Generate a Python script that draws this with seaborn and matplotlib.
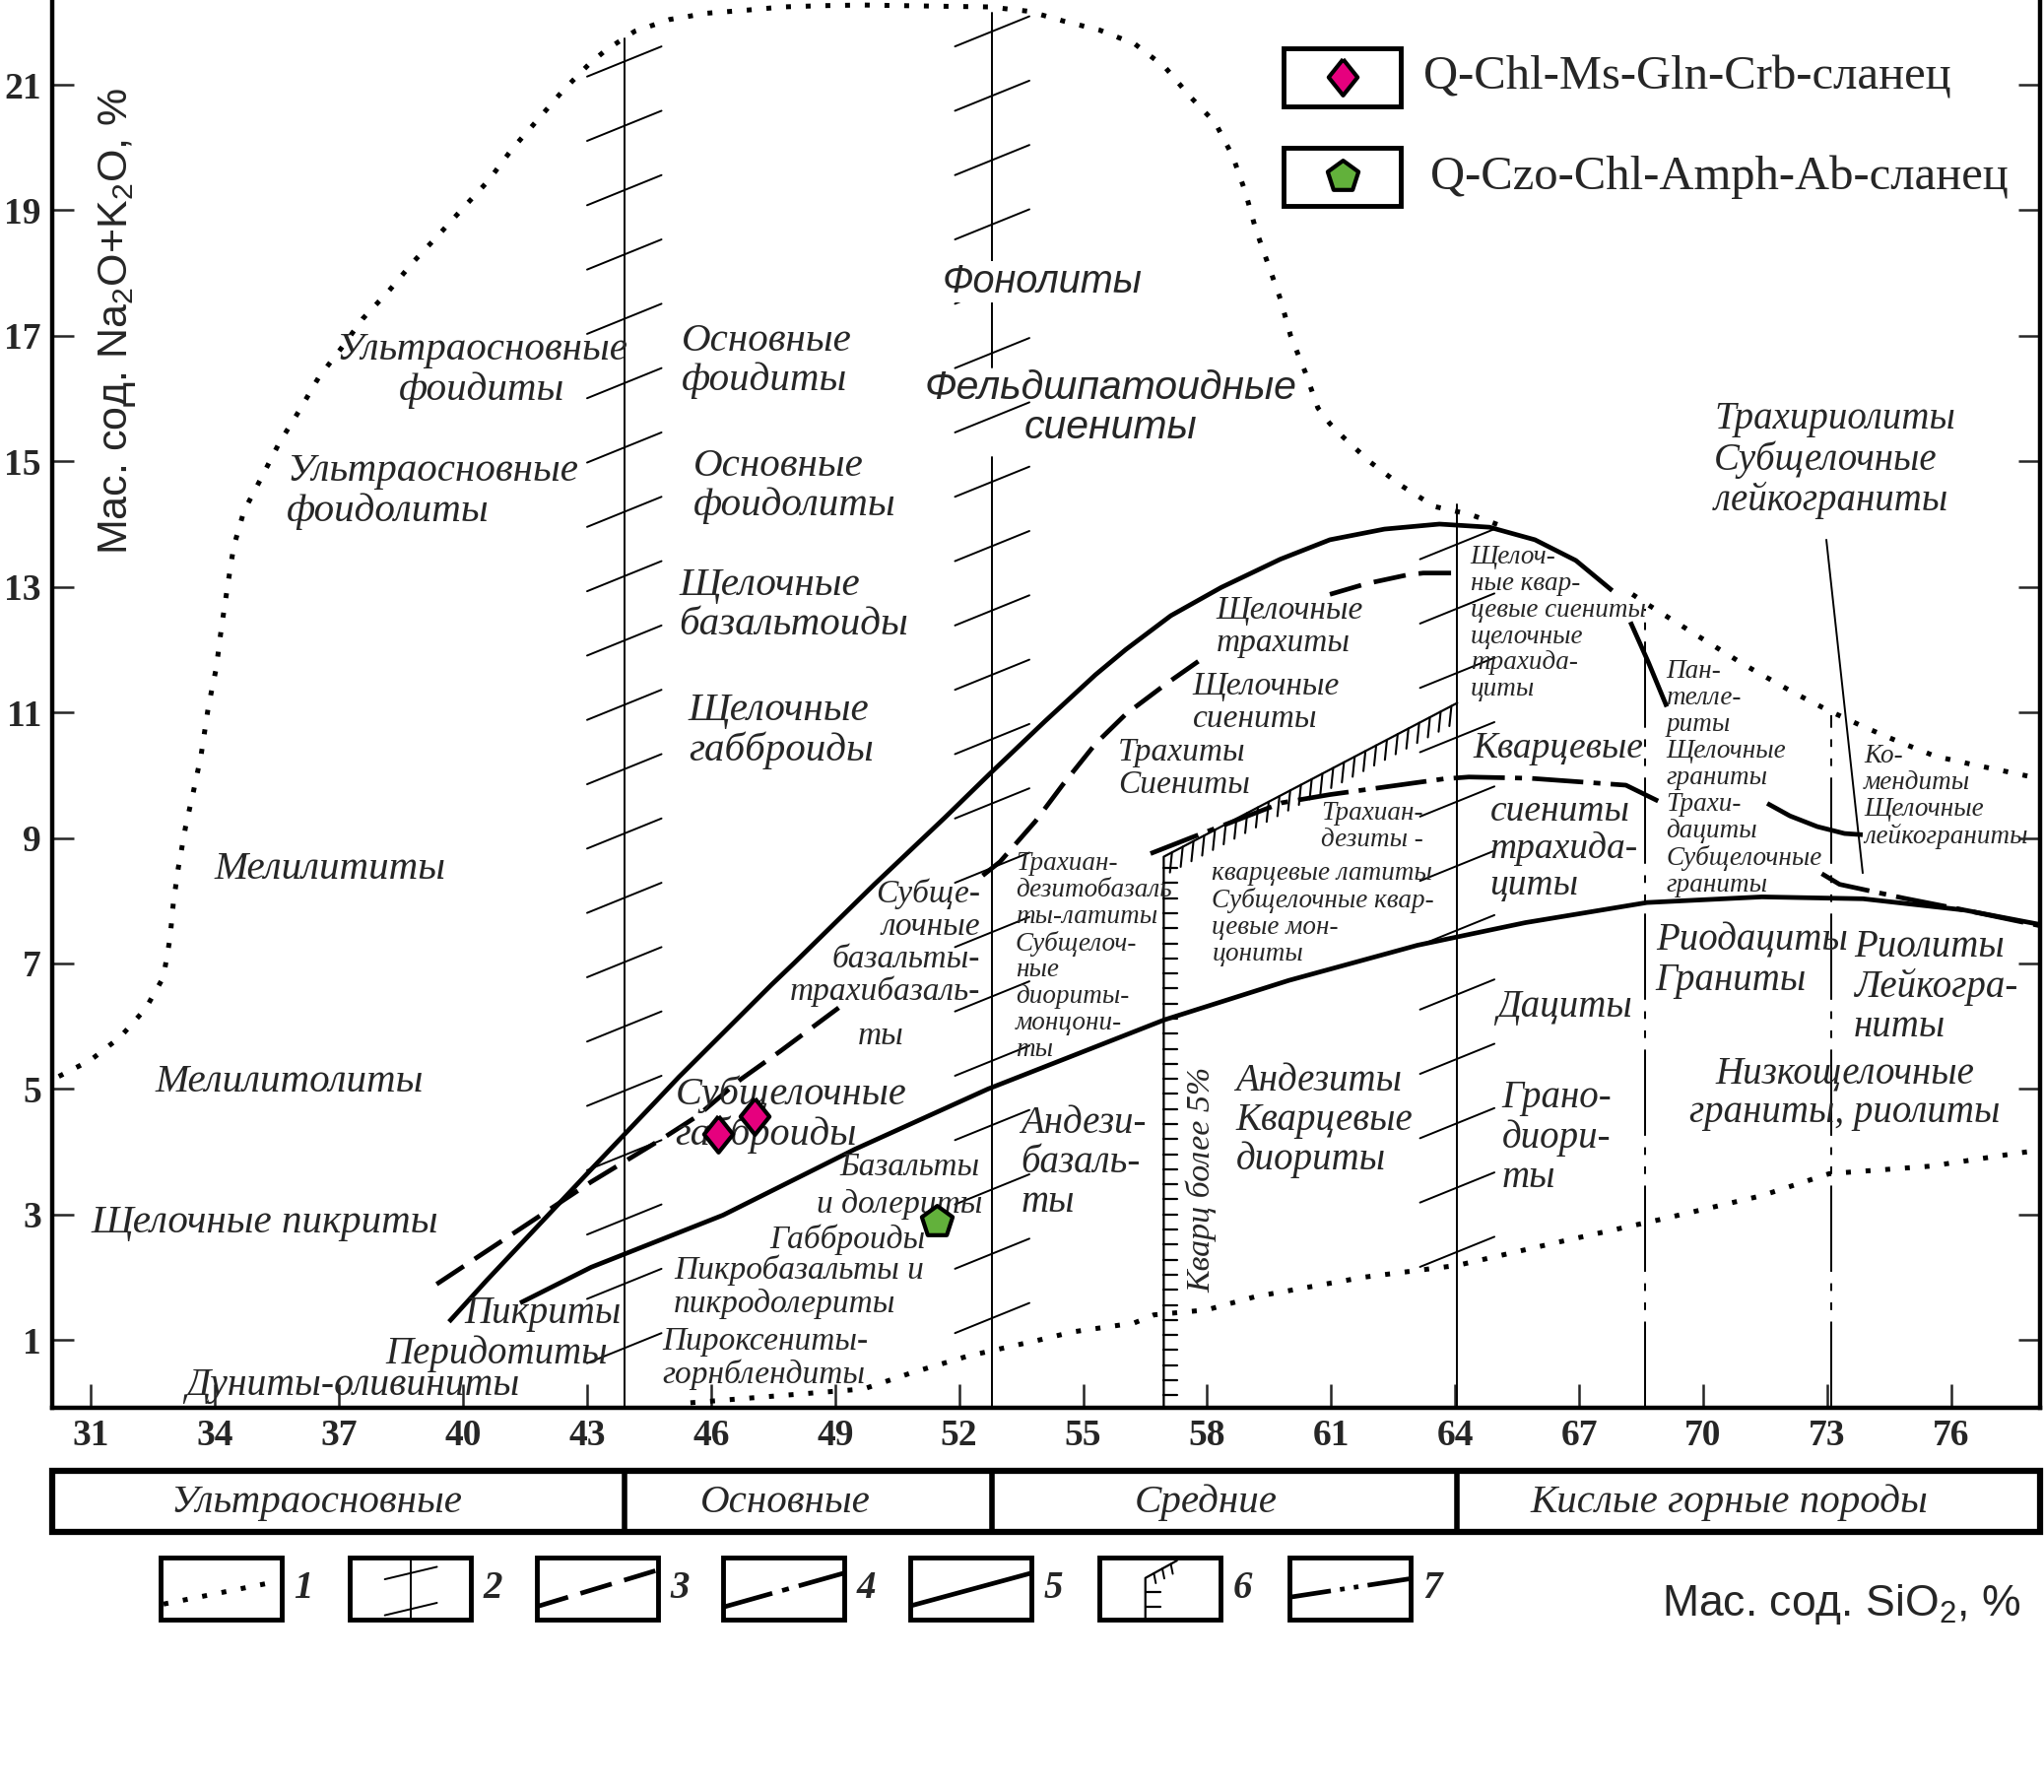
import numpy as np
import pandas as pd
import matplotlib.pyplot as plt
from matplotlib.patches import Rectangle
import seaborn as sns

sns.set_style('white')
plt.rcParams['font.family'] = ['Liberation Serif', 'DejaVu Sans']
plt.rcParams['mathtext.fontset'] = 'custom'
plt.rcParams['mathtext.rm'] = 'Liberation Sans'
plt.rcParams['mathtext.default'] = 'regular'

# ---------------- data (SiO2, Na2O+K2O) ----------------
# 1 - outer dotted envelope
env_top_x = [30.22, 30.99, 31.71, 32.32, 32.75, 32.91, 32.99, 33.11, 33.29, 33.48, 33.66, 33.84,
             34.03, 34.15, 34.3, 34.45, 34.7, 35.13, 35.55, 36.03, 36.51, 37.04, 37.57, 38.21,
             38.8, 39.44, 40.02, 40.61, 41.19, 41.83, 42.42, 43.05, 43.45, 44.15, 45.0, 45.91,
             46.89, 47.74, 48.71, 49.68, 50.65, 51.63, 52.72, 53.69, 54.55, 55.4, 56.25, 56.98,
             57.59, 58.2, 58.62, 58.92, 59.17, 59.47, 59.77, 60.02, 60.38, 60.68, 60.97, 61.3,
             61.96, 62.68, 63.5, 64.38, 65.2]
env_top_y = [5.2, 5.46, 5.83, 6.28, 6.78, 7.4, 7.96, 8.52, 9.19, 9.75, 10.31, 11.1,
             11.71, 12.33, 13.0, 13.64, 14.21, 14.75, 15.29, 15.8, 16.34, 16.79, 17.27, 17.72,
             18.18, 18.63, 19.05, 19.47, 19.98, 20.46, 20.91, 21.33, 21.55, 21.85, 22.04, 22.14,
             22.19, 22.24, 22.26, 22.27, 22.26, 22.25, 22.24, 22.17, 22.01, 21.87, 21.65, 21.28,
             20.81, 20.39, 19.86, 19.3, 18.71, 18.15, 17.59, 17.0, 16.41, 15.85, 15.6, 15.38,
             14.98, 14.62, 14.28, 14.15, 13.95]
env_right_x = [68.29, 68.68, 69.89, 70.99, 72.2, 73.03, 73.85, 74.74, 75.62, 76.51, 77.39, 78.1]
env_right_y = [12.88, 12.71, 12.21, 11.76, 11.31, 11.03, 10.78, 10.53, 10.3, 10.17, 10.05, 9.95]
env_low_x = [45.5, 49.69, 50.86, 52.19, 54.0, 54.75, 56.23, 56.71, 57.99, 59.16, 61.78, 64.06,
             66.5, 68.96, 71.42, 73.05, 75.5, 77.63, 78.1]
env_low_y = [0.0, 0.22, 0.48, 0.74, 1.01, 1.13, 1.27, 1.4, 1.48, 1.69, 2.0, 2.19,
             2.56, 2.92, 3.3, 3.65, 3.77, 3.98, 4.02]

# 5 - solid boundaries
alk_x = [39.66, 40.57, 43.1, 44.66, 45.22, 47.46, 48.0, 49.95, 51.65, 52.74, 54.08, 55.3,
         56.03, 57.12, 58.34, 59.77, 60.97, 62.29, 63.62, 64.83, 65.93, 66.92, 67.8]
alk_y = [1.29, 1.95, 3.72, 4.8, 5.19, 6.66, 7.0, 8.26, 9.32, 10.02, 10.86, 11.6,
         12.0, 12.54, 12.99, 13.44, 13.75, 13.92, 14.0, 13.95, 13.75, 13.42, 12.94]
alk2_x = [68.24, 68.68, 69.12]
alk2_y = [12.44, 11.79, 11.09]
alk3_x = [71.55, 72.1, 72.76, 73.42, 73.86]
alk3_y = [9.55, 9.35, 9.18, 9.07, 9.05]
sub_x = [41.38, 43.1, 46.29, 49.48, 52.7, 56.96, 59.98, 63.09, 65.7, 68.64, 71.42, 73.87, 76.32, 78.15]
sub_y = [1.59, 2.16, 2.99, 4.04, 5.0, 6.1, 6.73, 7.29, 7.65, 7.97, 8.06, 8.03, 7.85, 7.62]

# 3 - dashed boundary
dash1_x = [39.36, 43.1, 44.8, 45.65, 46.71, 47.67, 49.1]
dash1_y = [1.89, 3.52, 4.2, 4.56, 5.15, 5.6, 6.3]
dash2_x = [52.57, 52.99, 53.84, 54.51, 55.3, 56.03, 57.0, 57.91]
dash2_y = [8.4, 8.62, 9.26, 9.85, 10.5, 10.97, 11.45, 11.87]
dash3_x = [60.97, 61.85, 62.84, 63.23, 63.94]
dash3_y = [12.88, 13.05, 13.19, 13.22, 13.22]

# 4 - dash-dot boundary
dd1_x = [56.63, 57.6, 59.81, 60.97, 63.72, 64.33, 65.81, 68.13, 69.12]
dd1_y = [8.75, 9.0, 9.56, 9.69, 9.94, 9.97, 9.95, 9.84, 9.52]
dd2_x = [72.87, 73.3, 74.85, 76.4, 78.15]
dd2_y = [8.43, 8.26, 8.04, 7.84, 7.6]

# 2 - silica group boundaries (x, y_top, y_bottom of segments)
hatched_x = [43.9, 52.8, 52.8, 64.05]
hatched_top = [21.73, 22.15, 15.07, 14.31]
hatched_bot = [-0.08, 16.5, -0.08, -0.08]
hatch_start = {43.9: 21.37, 52.8: 21.85, 64.05: 13.68}
hatch_count = {43.9: 21, 52.8: 21, 64.05: 12}

# 7 - dash-dot-dot verticals
ddd_x = [68.6, 73.1]
ddd_top = [12.65, 10.95]

# 6 - quartz > 5 %
qz_x = [56.95, 56.95, 64.05]
qz_y = [-0.08, 8.7, 11.15]

leader_x = [72.98, 73.86]
leader_y = [13.75, 8.44]

# samples
q_chl_sio2 = [46.16, 47.05]
q_chl_alk = [4.29, 4.57]
q_czo_sio2 = [51.45]
q_czo_alk = [2.89]

xticks = [31, 34, 37, 40, 43, 46, 49, 52, 55, 58, 61, 64, 67, 70, 73, 76]
yticks = [1, 3, 5, 7, 9, 11, 13, 15, 17, 19, 21]

band_names = ['Ультраосновные', 'Основные', 'Средние', 'Кислые горные породы']
band_centers = [36.46, 47.81, 57.97, 70.64]
band_edges = [43.9, 52.8, 64.05]

BIG, MID, SMALL = 29.5, 24, 19.5
labels = [
    ('Ультраосновные\nфоидиты', 40.46, 16.45, BIG, 'center'),
    ('Ультраосновные\nфоидолиты', 35.73, 14.52, BIG, 'left'),
    ('Основные\nфоидиты', 45.29, 16.6, BIG, 'left'),
    ('Основные\nфоидолиты', 45.57, 14.6, BIG, 'left'),
    ('Щелочные\nбазальтоиды', 45.23, 12.71, BIG, 'left'),
    ('Щелочные\nгабброиды', 45.45, 10.7, BIG, 'left'),
    ('Мелилититы', 36.78, 8.5, BIG, 'center'),
    ('Мелилитолиты', 35.8, 5.11, BIG, 'center'),
    ('Щелочные пикриты', 35.2, 2.87, BIG, 'center'),
    ('Пикриты', 41.92, 1.42, 28, 'center'),
    ('Перидотиты', 40.81, 0.78, 28, 'center'),
    ('Дуниты-оливиниты', 37.31, 0.27, 28.5, 'center'),
    ('Пикробазальты и\nпикродолериты', 45.1, 1.85, MID, 'left'),
    ('Пироксениты-\nгорнблендиты', 44.82, 0.71, MID, 'left'),
    ('Базальты', 50.81, 3.76, MID, 'center'),
    ('и долериты', 50.56, 3.16, MID, 'center'),
    ('Габброиды', 49.3, 2.6, MID, 'center'),
    ('Субщелочные\nгабброиды', 45.13, 4.59, 29, 'left'),
    ('Субще-\nлочные\nбазальты-\nтрахибазаль-', 52.51, 7.33, MID, 'right'),
    ('ты', 50.11, 5.84, MID, 'center'),
    ('Андези-\nбазаль-\nты', 53.49, 3.82, 28, 'left'),
    ('Трахиан-\nдезитобазаль\nты-латиты\nСубщелоч-\nные\nдиориты-\nмонцони-\nты', 53.36, 7.11, SMALL, 'left'),
    ('Трахиты\nСиениты', 55.85, 10.1, MID, 'left'),
    ('Щелочные\nтрахиты', 58.22, 12.36, MID, 'left'),
    ('Щелочные\nсиениты', 57.65, 11.16, MID, 'left'),
    ('Трахириолиты\nСубщелочные\nлейкограниты', 70.27, 15.02, 28, 'left'),
    ('Щелоч-\nные квар-\nцевые сиениты\nщелочные\nтрахида-\nциты', 64.37, 12.42, SMALL, 'left'),
    ('Кварцевые', 64.43, 10.43, 27, 'left'),
    ('сиениты\nтрахида-\nциты', 64.84, 8.83, 27, 'left'),
    ('Трахиан-\nдезиты -', 63.23, 9.18, SMALL, 'right'),
    ('кварцевые латиты\nСубщелочные квар-\nцевые мон-\nцониты', 58.12, 7.79, SMALL, 'left'),
    ('Андезиты\nКварцевые\nдиориты', 58.69, 4.49, 28, 'left'),
    ('Грано-\nдиори-\nты', 65.13, 4.22, 28, 'left'),
    ('Дациты', 65.0, 6.3, 28, 'left'),
    ('Риодациты\nГраниты', 68.85, 7.04, 28, 'left'),
    ('Риолиты\nЛейкогра-\nниты', 73.64, 6.63, 28, 'left'),
    ('Низкощелочные\nграниты, риолиты', 73.42, 4.93, 28, 'center'),
    ('Пан-\nтелле-\nриты\nЩелочные\nграниты\nТрахи-\nдациты\nСубщелочные\nграниты', 69.1, 9.95, SMALL, 'left'),
    ('Ко-\nмендиты\nЩелочные\nлейкограниты', 73.89, 9.66, SMALL, 'left'),
]

# ---------------- figure ----------------
fig = plt.figure(figsize=(20.75, 18.19), dpi=100)
XL = (30.06, 78.15)
ax = fig.add_axes([0.02554, 0.2144, 0.97253, 0.7856])
ax.set_xlim(*XL)
ax.set_ylim(-0.08, 22.35)

DOT = dict(color='black', lw=3.6, linestyle=(0, (1, 3)), dash_capstyle='butt')
SOLID = dict(color='black', lw=3.4, solid_capstyle='butt', solid_joinstyle='round')
DASH = dict(color='black', lw=3.4, linestyle=(0, (7, 2.8)), dash_capstyle='butt')
DASHDOT = dict(color='black', lw=3.4, linestyle=(0, (11, 2.2, 1.5, 2.2)), dash_capstyle='butt')
THIN = dict(color='black', lw=1.4)
DDD = dict(color='black', lw=1.4, linestyle=(0, (45, 6, 4, 6, 4, 6)))

ax.plot(env_top_x, env_top_y, **DOT)
ax.plot(env_right_x, env_right_y, **DOT)
ax.plot(env_low_x, env_low_y, **DOT)

ax.plot(alk_x, alk_y, **SOLID)
ax.plot(alk2_x, alk2_y, **SOLID)
ax.plot(alk3_x, alk3_y, **SOLID)
ax.plot(sub_x, sub_y, **SOLID)

for xs, ys in [(dash1_x, dash1_y), (dash2_x, dash2_y), (dash3_x, dash3_y)]:
    ax.plot(xs, ys, **DASH)
for xs, ys in [(dd1_x, dd1_y), (dd2_x, dd2_y)]:
    ax.plot(xs, ys, **DASHDOT)

# hatched verticals
for xv, yt, yb in zip(hatched_x, hatched_top, hatched_bot):
    ax.plot([xv, xv], [yb, yt], **THIN)
for xv in hatch_start:
    for k in range(hatch_count[xv]):
        yc = hatch_start[xv] - 1.025 * k
        ax.plot([xv - 0.9, xv + 0.9], [yc - 0.24, yc + 0.24], **THIN)

for xv, yt in zip(ddd_x, ddd_top):
    ax.plot([xv, xv], [-0.08, yt], **DDD)

# quartz line with ticks
ax.plot(qz_x, qz_y, color='black', lw=1.6)
for yv in np.arange(0.12, 8.6, 0.24):
    ax.plot([qz_x[0], qz_x[0] + 0.33], [yv, yv], color='black', lw=1.6)
slope = (qz_y[2] - qz_y[1]) / (qz_x[2] - qz_x[1])
for xv in np.arange(57.15, 64.0, 0.26):
    yv = qz_y[1] + slope * (xv - qz_x[1])
    ax.plot([xv, xv - 0.05], [yv, yv - 0.32], color='black', lw=1.5)

ax.plot(leader_x, leader_y, **THIN)

# samples
diamond = [(0, 1), (0.8, 0), (0, -1), (-0.8, 0), (0, 1)]
sns.scatterplot(x=q_chl_sio2, y=q_chl_alk, marker=diamond, s=700, color='#E6007E',
                edgecolor='black', linewidth=3, zorder=10, legend=False, ax=ax)
sns.scatterplot(x=q_czo_sio2, y=q_czo_alk, marker='p', s=560, color='#62B13B',
                edgecolor='black', linewidth=3, zorder=10, legend=False, ax=ax)

# labels
for txt, x, y, size, ha in labels:
    ax.text(x, y, txt, fontsize=size, ha=ha, va='center', multialignment=ha,
            fontstyle='italic', linespacing=1.1, zorder=5)
ax.text(51.6, 17.86, 'Фонолиты', fontsize=28.5, ha='left', va='center', fontstyle='italic',
        fontfamily='Liberation Sans', zorder=6,
        bbox=dict(facecolor='white', edgecolor='none', pad=1))
ax.text(55.67, 15.85, 'Фельдшпатоидные\nсиениты', fontsize=29.5, ha='center', va='center',
        fontstyle='italic', fontfamily='Liberation Sans', linespacing=1.05, zorder=5)
ax.text(57.87, 3.55, 'Кварц более 5%', fontsize=24.5, rotation=90, ha='center', va='center',
        fontstyle='italic', zorder=5)
ax.text(31.63, 17.24, 'Мас. сод. Na$_2$O+K$_2$O, %', fontsize=31, rotation=90,
        ha='center', va='center', fontfamily='Liberation Sans')

# axes styling
for side in ['left', 'bottom', 'right']:
    ax.spines[side].set_linewidth(3.2)
    ax.spines[side].set_color('black')
ax.spines['top'].set_visible(False)
ax.set_xticks(xticks)
ax.set_yticks(yticks)
ax.tick_params(axis='x', direction='in', length=17, width=1.8, bottom=True, top=False, pad=8)
ax.tick_params(axis='y', direction='in', length=16, width=1.8, left=True, right=True, pad=8)
for lbl in ax.get_xticklabels() + ax.get_yticklabels():
    lbl.set_fontweight('bold')
    lbl.set_fontsize(27)
    lbl.set_fontfamily('Liberation Serif')
ax.grid(False)

# silica groups band
band = fig.add_axes([0.02554, 1 - 1555 / 1819, 0.97253, 62 / 1819])
band.set_xlim(*XL)
band.set_ylim(0, 1)
band.axis('off')
band.add_patch(Rectangle((XL[0], 0), XL[1] - XL[0], 1, fill=False, edgecolor='black',
                         lw=4.5, clip_on=False))
for e in band_edges:
    band.plot([e, e], [0, 1], color='black', lw=4, clip_on=False)
for name, c in zip(band_names, band_centers):
    band.text(c, 0.48, name, ha='center', va='center', fontsize=BIG, fontstyle='italic')

# overlay in pixel coordinates for legends
ov = fig.add_axes([0, 0, 1, 1])
ov.set_xlim(0, 2075)
ov.set_ylim(1819, 0)
ov.axis('off')

# legend of line types
box_left = [163, 355, 545, 734, 924, 1116, 1309]
BT, BW, BH = 1581, 123, 63
for i, L in enumerate(box_left):
    ov.add_patch(Rectangle((L, BT), BW, BH, fill=False, edgecolor='black', lw=3.5))
    ov.text(L + BW + 22, BT + BH / 2, str(i + 1), fontsize=28, fontstyle='italic',
            fontweight='bold', ha='center', va='center')
L = box_left[0]
ov.plot([L + 3, L + BW - 3], [BT + 0.75 * BH, BT + 0.38 * BH], **DOT)
L = box_left[1]
ov.plot([L + BW / 2] * 2, [BT, BT + BH], **THIN)
for r in [0.25, 0.83]:
    ov.plot([L + 0.29 * BW, L + 0.72 * BW], [BT + (r + 0.1) * BH, BT + (r - 0.1) * BH], **THIN)
L = box_left[2]
ov.plot([L, L + BW], [BT + 0.79 * BH, BT + 0.2 * BH], **DASH)
L = box_left[3]
ov.plot([L, L + BW], [BT + 0.8 * BH, BT + 0.25 * BH], **DASHDOT)
L = box_left[4]
ov.plot([L, L + BW], [BT + 0.78 * BH, BT + 0.25 * BH], **SOLID)
L = box_left[5]
ov.plot([L + 0.38 * BW, L + 0.38 * BW, L + 0.64 * BW],
        [BT + BH, BT + 0.33 * BH, BT + 0.05 * BH], color='black', lw=1.6)
for r in [0.56, 0.79]:
    ov.plot([L + 0.38 * BW, L + 0.5 * BW], [BT + r * BH] * 2, color='black', lw=1.6)
for f in [0.45, 0.52, 0.59]:
    yy = BT + (0.33 - (f - 0.38) / 0.26 * 0.28) * BH
    ov.plot([f * BW + L, f * BW + L + 2], [yy, yy + 10], color='black', lw=1.4)
L = box_left[6]
ov.plot([L, L + BW], [BT + 0.64 * BH, BT + 0.34 * BH], color='black', lw=3.4,
        linestyle=(0, (9, 2, 1, 2, 1, 2)))

ov.text(1869, 1628, 'Мас. сод. SiO$_2$, %', fontsize=32, ha='center', va='center',
        fontfamily='Liberation Sans')

# legend of samples
for top, mk, col, txt, tx in [(49, diamond, '#E6007E', 'Q-Chl-Ms-Gln-Crb-сланец', 1445),
                              (150, 'p', '#62B13B', 'Q-Czo-Chl-Amph-Ab-сланец', 1452)]:
    ov.add_patch(Rectangle((1303, top), 119, 59, fill=False, edgecolor='black', lw=3.5))
    ov.scatter([1362.5], [top + 29.5], marker=mk, s=700 if mk is diamond else 560, color=col,
               edgecolor='black', linewidth=3, zorder=5)
    ov.text(tx, top + 30, txt, fontsize=35, ha='left', va='center')

fig.savefig('out.png', dpi=100)
